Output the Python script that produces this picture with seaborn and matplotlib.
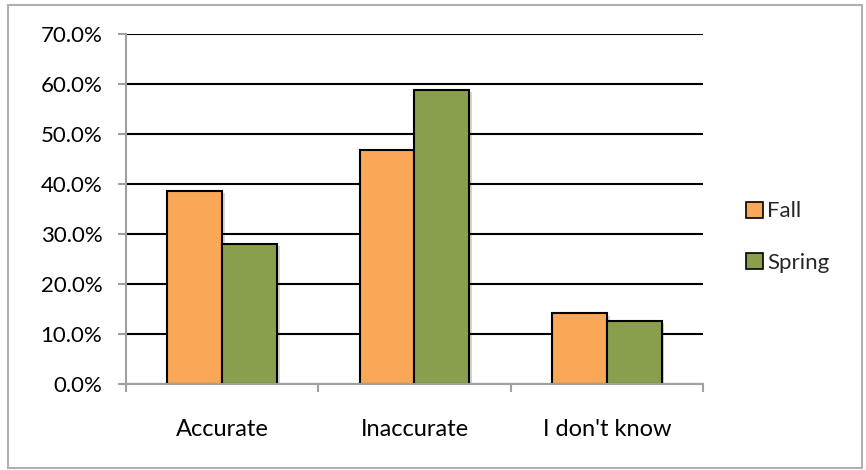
import matplotlib
matplotlib.use("Agg")
import matplotlib.pyplot as plt
import matplotlib.patches as mpatches
import matplotlib.patheffects as pe
from matplotlib.ticker import FuncFormatter, MultipleLocator
import seaborn as sns
import pandas as pd

categories = ["Accurate", "Inaccurate", "I don't know"]
seasons = ["Fall", "Spring"]
fall = [38.7, 46.9, 14.2]
spring = [28.1, 58.9, 12.7]
colors = ["#F9A857", "#8A9F4B"]

df = pd.DataFrame({
    "category": categories * 2,
    "season": [seasons[0]] * 3 + [seasons[1]] * 3,
    "value": fall + spring,
})

sns.set_theme(style="white")
plt.rcParams["font.family"] = ["Lato", "DejaVu Sans"]

fig = plt.figure(figsize=(8.66, 4.70), dpi=100)
ax = fig.add_axes([126 / 866, 1 - 384 / 470, (703 - 126) / 866, (384 - 34) / 470])

sns.barplot(data=df, x="category", y="value", hue="season", order=categories,
            hue_order=seasons, palette=colors, width=0.57, ax=ax,
            edgecolor="black", linewidth=1.5, saturation=1, legend=False, zorder=3)

for p in ax.patches:
    p.set_path_effects([pe.SimplePatchShadow(offset=(2, -2), alpha=0.2), pe.Normal()])

ax.set_ylim(0, 70)
ax.set_xlim(-0.5, 2.5)
ax.yaxis.set_major_locator(MultipleLocator(10))
ax.yaxis.set_major_formatter(FuncFormatter(lambda v, _: f"{v:.1f}%"))
ax.grid(axis="y", color="black", linewidth=1.5, zorder=0)
ax.set_axisbelow(True)
ax.set_xlabel("")
ax.set_ylabel("")

for side in ["top", "right"]:
    ax.spines[side].set_visible(False)
for side in ["left", "bottom"]:
    ax.spines[side].set_color("#A0A0A0")
    ax.spines[side].set_linewidth(1.5)
    ax.spines[side].set_zorder(4)

ax.tick_params(axis="y", which="major", left=True, length=6, width=1.5, color="#A0A0A0",
               labelsize=16, pad=11, labelcolor="black")
ax.tick_params(axis="x", which="major", bottom=False, labelsize=17, pad=19, labelcolor="black")
ax.set_xticks([-0.5, 0.5, 1.5, 2.5], minor=True)
ax.tick_params(axis="x", which="minor", bottom=True, length=6, width=1.5, color="#A0A0A0")

handles = [mpatches.Patch(facecolor=c, edgecolor="black", linewidth=1.2, label=s)
           for c, s in zip(colors, seasons)]
fig.legend(handles=handles, loc="center left", bbox_to_anchor=(726 / 866, 1 - 237 / 470),
           frameon=False, fontsize=16, handlelength=0.75, handleheight=0.75,
           handletextpad=0.2, labelspacing=1.4)

fig.patches.append(mpatches.Rectangle((8 / 866, 1 - 468 / 470), (862 - 8) / 866, (468 - 5) / 470,
                                      transform=fig.transFigure, fill=False,
                                      edgecolor="#B0B0B0", linewidth=1.5))

fig.savefig("out.png", dpi=100)
